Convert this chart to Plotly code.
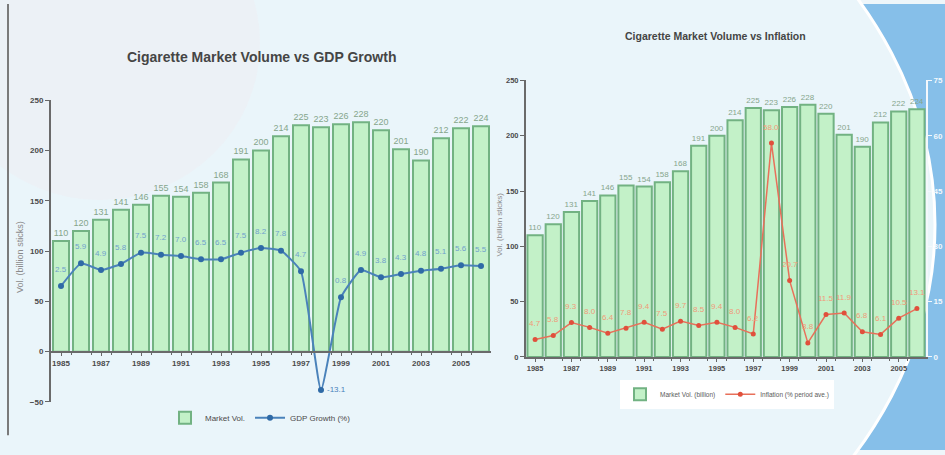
import plotly.graph_objects as go

# Cigarette market volume (billion sticks) with GDP growth and inflation, 1985-2006
years = list(range(1985, 2007))
market_vol = [110, 120, 131, 141, 146, 155, 154, 158, 168, 191, 200,
              214, 225, 223, 226, 228, 220, 201, 190, 212, 222, 224]
gdp_growth = [2.5, 5.9, 4.9, 5.8, 7.5, 7.2, 7.0, 6.5, 6.5, 7.5, 8.2,
              7.8, 4.7, -13.1, 0.8, 4.9, 3.8, 4.3, 4.8, 5.1, 5.6, 5.5]
inflation = [4.7, 5.8, 9.3, 8.0, 6.4, 7.8, 9.4, 7.5, 9.7, 8.5, 9.4,
             8.0, 6.2, 58.0, 20.7, 3.8, 11.5, 11.9, 6.8, 6.1, 10.5, 13.1]
year_ticks = list(range(1985, 2006, 2))

W, H = 945, 455
NARROW = "Liberation Sans Narrow, Arial Narrow, Liberation Sans, sans-serif"
BAR_FILL = "#c3f1c8"
BAR_EDGE = "#72b282"
BAR_TEXT = "#86a58c"
GDP_BLUE = "#4a82ba"
INF_RED = "#e8705a"


def px_x(p):
    return p / W


def px_y(p):
    return 1 - p / H


fig = go.Figure()

# Left panel: volume bars + GDP growth line
fig.add_trace(go.Bar(
    x=years, y=market_vol, name="Market Vol.", xaxis="x", yaxis="y",
    width=0.8, marker=dict(color=BAR_FILL, line=dict(color=BAR_EDGE, width=2)),
    text=[str(v) for v in market_vol], textposition="outside",
    textfont=dict(family=NARROW, size=9, color=BAR_TEXT),
    constraintext="none", cliponaxis=False, legend="legend",
))
fig.add_trace(go.Scatter(
    x=years, y=gdp_growth, name="GDP Growth (%)", xaxis="x", yaxis="y2",
    mode="lines+markers", line=dict(color=GDP_BLUE, width=2, shape="spline", smoothing=0.4),
    marker=dict(size=6, color="#2f6aa6"), cliponaxis=False, legend="legend",
))

# Right panel: volume bars + inflation line
fig.add_trace(go.Bar(
    x=years, y=market_vol, name="Market Vol. (billion)", xaxis="x2", yaxis="y3",
    width=0.84, marker=dict(color=BAR_FILL, line=dict(color=BAR_EDGE, width=2)),
    text=[str(v) for v in market_vol], textposition="outside",
    textfont=dict(family=NARROW, size=8, color=BAR_TEXT),
    constraintext="none", cliponaxis=False, legend="legend2",
))
fig.add_trace(go.Scatter(
    x=years, y=inflation, name="Inflation (% period ave.)", xaxis="x2", yaxis="y4",
    mode="lines+markers", line=dict(color=INF_RED, width=1.5),
    marker=dict(size=5, color="#e0503c"), cliponaxis=False, legend="legend2",
))

annotations = []
# value labels for GDP growth
for yr, g in zip(years, gdp_growth):
    if g < 0:
        annotations.append(dict(x=yr, y=g, xref="x", yref="y2", text=f"{g:.1f}",
                                showarrow=False, xshift=15, yshift=0,
                                xanchor="center", yanchor="middle",
                                font=dict(family=NARROW, size=8, color=GDP_BLUE)))
    else:
        annotations.append(dict(x=yr, y=g, xref="x", yref="y2", text=f"{g:.1f}",
                                showarrow=False, yshift=17,
                                xanchor="center", yanchor="middle",
                                font=dict(family=NARROW, size=8, color="#6f9fcc")))
# value labels for inflation
for yr, v in zip(years, inflation):
    annotations.append(dict(x=yr, y=v, xref="x2", yref="y4", text=f"{v:.1f}",
                            showarrow=False, yshift=16,
                            xanchor="center", yanchor="middle",
                            font=dict(family=NARROW, size=8, color="#f09a78")))

# titles
annotations.append(dict(x=px_x(261), y=px_y(54), xref="paper", yref="paper",
                        xanchor="center", yanchor="middle",
                        text="Cigarette Market Volume vs GDP Growth", showarrow=False,
                        font=dict(family=NARROW, size=14, color="#454545", weight="bold")))
annotations.append(dict(x=px_x(715), y=px_y(33), xref="paper", yref="paper",
                        xanchor="center", yanchor="middle",
                        text="Cigarette Market Volume vs Inflation", showarrow=False,
                        font=dict(family=NARROW, size=10.5, color="#454545", weight="bold")))
# y-axis titles
annotations.append(dict(x=px_x(20), y=px_y(258), xref="paper", yref="paper",
                        xanchor="center", yanchor="middle",
                        text="Vol. (billion sticks)", textangle=-90, showarrow=False,
                        font=dict(family=NARROW, size=9, color="#8a8a8a")))
annotations.append(dict(x=px_x(500), y=px_y(225), xref="paper", yref="paper",
                        xanchor="center", yanchor="middle",
                        text="Vol. (billion sticks)", textangle=-90, showarrow=False,
                        font=dict(family=NARROW, size=8, color="#8a8a8a")))

tickfont_l = dict(family=NARROW, size=8, color="#4a4a4a", weight="bold")
tickfont_r = dict(family=NARROW, size=7.5, color="#4a4a4a", weight="bold")

shapes = [
    # blue backdrop on the right
    dict(type="rect", xref="paper", yref="paper", x0=0.84, x1=1.0, y0=0, y1=1,
         fillcolor="#86bfe9", line=dict(width=0), layer="below"),
    # light swoosh ellipse
    dict(type="circle", xref="paper", yref="paper",
         x0=px_x(-300), x1=px_x(935), y0=px_y(700), y1=px_y(-250),
         fillcolor="#eaf5fa", line=dict(color="#ffffff", width=3), layer="below"),
    # faint pink glow top left
    dict(type="circle", xref="paper", yref="paper",
         x0=px_x(-60), x1=px_x(260), y0=px_y(200), y1=px_y(-120),
         fillcolor="rgba(246,226,232,0.22)", line=dict(width=0), layer="below"),
    # left panel border
    dict(type="line", xref="paper", yref="paper",
         x0=px_x(8), x1=px_x(8), y0=px_y(440), y1=1.0,
         line=dict(color="#7a7a7a", width=2), layer="below"),
]

fig.update_layout(
    width=W, height=H,
    margin=dict(l=0, r=0, t=0, b=0),
    paper_bgcolor="#eef6fa",
    plot_bgcolor="rgba(0,0,0,0)",
    bargap=0.2,
    font=dict(family=NARROW, color="#4a4a4a"),
    xaxis=dict(domain=[px_x(51), px_x(491)], range=[1984.5, 2006.5],
               anchor="free", position=px_y(355),
               tickvals=year_ticks, ticks="outside", ticklen=3, tickcolor="#666",
               showline=True, linecolor="#6a6a6a", linewidth=2,
               showgrid=False, zeroline=False, tickfont=tickfont_l,
               minor=dict(tickvals=[y + 0.5 for y in years[:-1]], ticks="outside",
                          ticklen=2, tickcolor="#666")),
    yaxis=dict(domain=[px_y(406), px_y(98)], range=[-50, 250], dtick=50,
               anchor="x", ticks="outside", ticklen=4, tickcolor="#666",
               showline=True, linecolor="#6a6a6a", linewidth=2,
               showgrid=False, zeroline=False, tickfont=tickfont_l),
    yaxis2=dict(overlaying="y", range=[-14.9, 30.4], visible=False, anchor="x"),
    xaxis2=dict(domain=[px_x(526), px_x(926)], range=[1984.5, 2006.5], anchor="y3",
                tickvals=year_ticks, ticks="outside", ticklen=3, tickcolor="#666",
                showline=True, linecolor="#6a6a6a", linewidth=2,
                showgrid=False, zeroline=False, tickfont=tickfont_r,
                minor=dict(tickvals=[y + 0.5 for y in years[:-1]], ticks="outside",
                           ticklen=2, tickcolor="#666")),
    yaxis3=dict(domain=[px_y(360), px_y(78)], range=[0, 250], dtick=50,
                anchor="x2", ticks="outside", ticklen=4, tickcolor="#666",
                showline=True, linecolor="#6a6a6a", linewidth=2,
                showgrid=False, zeroline=False, tickfont=tickfont_r),
    yaxis4=dict(overlaying="y3", side="right", range=[0, 75], dtick=15, anchor="x2",
                ticks="outside", ticklen=4, tickcolor="#f4f8fc",
                showline=True, linecolor="#f4f8fc", linewidth=2,
                showgrid=False, zeroline=False,
                tickfont=dict(family=NARROW, size=8, color="#f4f8fc", weight="bold")),
    legend=dict(orientation="h", x=px_x(165), y=px_y(422), xanchor="left", yanchor="middle",
                bgcolor="rgba(0,0,0,0)", font=dict(family=NARROW, size=8, color="#4a4a4a"),
                itemwidth=30, tracegroupgap=0),
    legend2=dict(orientation="h", x=px_x(620), y=px_y(398), xanchor="left", yanchor="middle",
                 bgcolor="#ffffff", font=dict(family=NARROW, size=6.5, color="#5a5a5a"),
                 itemwidth=30, tracegroupgap=0),
    annotations=annotations,
    shapes=shapes,
    showlegend=True,
)

fig.write_html("out.html")
